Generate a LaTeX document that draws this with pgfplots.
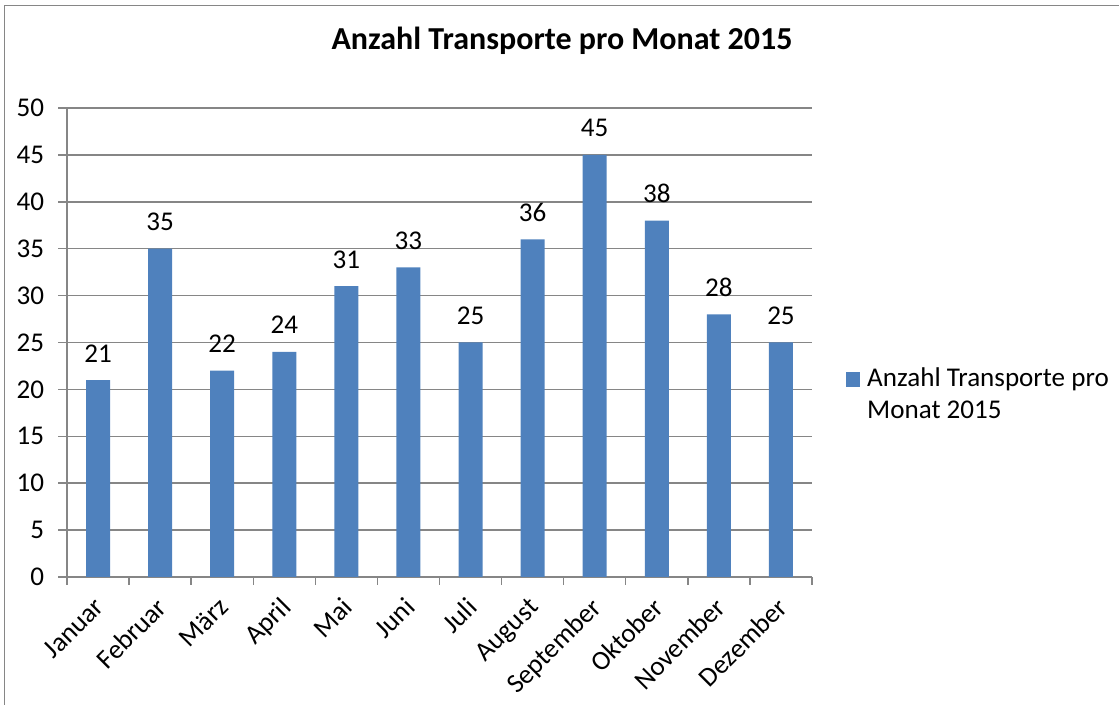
\documentclass[border=0pt]{standalone}
\usepackage{pgfplots}
\pgfplotsset{compat=1.18}
\usepackage{fontspec}
\setmainfont{Carlito}
\definecolor{barblue}{RGB}{79,129,189}
\definecolor{gridgray}{RGB}{134,134,134}
\newcommand{\lblfont}{\fontsize{20.3pt}{24pt}\selectfont}
\begin{document}
\begin{tikzpicture}[x=0.75pt,y=0.75pt]
\useasboundingbox (0,0) rectangle (1119,705);
\draw[gridgray, line width=1.1pt] (4.5,-10) -- (4.5,699.5) -- (1130,699.5);
\node[anchor=base, font=\bfseries\fontsize{24pt}{28pt}\selectfont] at (562,655) {Anzahl Transporte pro Monat 2015};
\begin{axis}[
  at={(50.25pt,96pt)}, anchor=south west,
  scale only axis, width=558.75pt, height=351.75pt,
  ymin=0, ymax=50, ytick={0,5,...,50},
  xmin=-0.5, xmax=11.5, enlargelimits=false,
  xtick={0,...,11},
  xticklabels={Januar,Februar,März,April,Mai,Juni,Juli,August,September,Oktober,November,Dezember},
  minor xtick={-0.5,0.5,...,11.5},
  axis x line*=bottom, axis y line*=left,
  axis line style={gridgray, line width=1.1pt, -},
  ymajorgrids, grid style={gridgray, line width=1.1pt},
  tick align=outside, major tick length=6.75pt, minor tick length=6pt,
  major x tick style={draw=none},
  minor x tick style={gridgray, line width=1.1pt},
  ytick style={gridgray, line width=1.1pt},
  ybar, bar width=18pt,
  nodes near coords,
  nodes near coords style={font=\lblfont, anchor=base, yshift=13.5pt, text=black},
  tick label style={font=\lblfont, text=black},
  yticklabel style={anchor=east, inner sep=0pt, xshift=-10.25pt},
  xticklabel style={rotate=45, anchor=north east, inner sep=0pt, xshift=-7.9pt, yshift=-2.4pt},
  /pgf/number format/assume math mode=true,
  legend style={at={(1.0456,0.4478)}, anchor=north west, draw=none, fill=none, inner sep=0pt,
    font=\lblfont, nodes={inner sep=0pt, align=left},
    /tikz/every odd column/.append style={column sep=5.25pt}},
  legend image code/.code={\fill[barblue] (0pt,5.25pt) rectangle (10.5pt,16.25pt);},
]
\addplot[fill=barblue, draw=none] coordinates {
(0,21) (1,35) (2,22) (3,24) (4,31) (5,33) (6,25) (7,36) (8,45) (9,38) (10,28) (11,25)};
\addlegendentry{Anzahl Transporte pro\\Monat 2015}
\end{axis}
\end{tikzpicture}
\end{document}
